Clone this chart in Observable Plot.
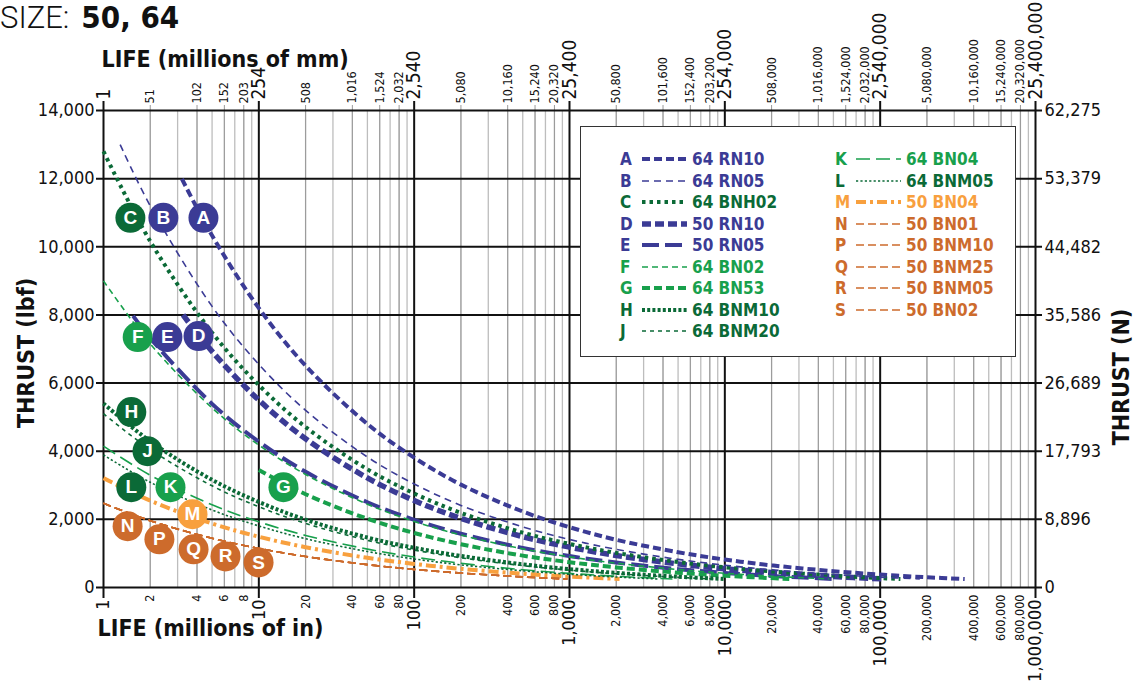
<!DOCTYPE html>
<html><head><meta charset="utf-8">
<script src="https://cdn.jsdelivr.net/npm/d3@7"></script>
<script src="https://cdn.jsdelivr.net/npm/@observablehq/plot@0.6"></script>
<style>
html,body{margin:0;padding:0;background:#fff;}
body{width:1134px;height:681px;overflow:hidden;position:relative;font-family:'Liberation Sans Narrow','DejaVu Sans Condensed','Liberation Sans',sans-serif;}
#chart{position:absolute;left:0;top:0;}
#title{position:absolute;left:0px;top:1px;font-size:31px;line-height:32px;white-space:nowrap;color:#111;}
#title .l{font-family:Roboto,'Liberation Sans',sans-serif;font-weight:300;}
#title .b{font-weight:bold;margin-left:12px;}
#legend{position:absolute;left:580px;top:126px;width:436px;height:231px;border:1px solid #333;background:#fff;box-sizing:border-box;}
.lg{position:absolute;font-weight:bold;font-size:17px;line-height:20px;white-space:nowrap;}
</style></head><body>
<div id="chart"></div>
<div id="title"><span class="l">SIZE:</span><span class="b">50, 64</span></div>
<div id="legend"></div>
<script>
const FONT = "'Liberation Sans Narrow','DejaVu Sans Condensed','Liberation Sans',sans-serif";

// ---- data (life in millions of inches, thrust in lbf) ----
const lifeA = [3.2,5,10,20,50,100,200,500,1000,2000,5000,10000,20000,50000,100000,200000,350000];
const thrustA = [11990,10330,8200,6510,4800,3810,3020,2230,1770,1400,1035,820,650,480,380,300,250];
const lifeB = [1.28,2,5,10,20,50,100,200,500,1000,2000,5000,10000,20000,50000,100000,180000];
const thrustB = [13000,11200,8250,6550,5200,3830,3040,2410,1780,1410,1120,825,655,520,383,304,250];
const lifeC = [1,2,5,10,20,50,100,200,500,1000,2000,5000,10000,20000,50000,100000,135000];
const thrustC = [12800,10160,7480,5940,4710,3470,2760,2190,1610,1280,1016,748,594,471,347,276,250];
const lifeD = [3.25,5,10,20,50,100,200,500,1000,2000,5000,10000,20000,50000,106000];
const thrustD = [8000,6930,5500,4365,3216,2553,2026,1493,1185,940,693,550,437,322,250];
const lifeE = [1.55,2,5,10,20,50,100,200,500,1000,2000,5000,10000,20000,50000];
const thrustE = [7970,7320,5390,4280,3397,2503,1987,1577,1162,922,732,539,428,340,250];
const lifeF = [1,2,5,10,20,50,100,200,500,1000,2000,5000,10000,20000,47000];
const thrustF = [9000,7150,5270,4180,3318,2444,1940,1540,1134,900,715,527,418,332,250];
const lifeG = [10,20,50,100,200,500,1000,2000,5000,10000,26000];
const thrustG = [3450,2738,2018,1601,1271,936,743,590,435,345,250];
const lifeH = [1,2,5,10,20,50,100,200,500,1000,2000,5000,10000];
const thrustH = [5400,4290,3160,2510,1990,1468,1165,925,681,541,429,316,251];
const lifeJ = [1,2,5,10,20,50,100,200,500,1000,2000,5000,8500];
const thrustJ = [5100,4050,2984,2368,1880,1385,1099,872,643,510,405,298,250];
const lifeK = [1,2,5,10,20,50,100,200,500,1000,2000,4600];
const thrustK = [4150,3295,2428,1927,1529,1127,894,710,523,415,330,250];
const lifeL = [1,2,5,10,20,50,100,200,500,1000,2000,3700];
const thrustL = [3890,3088,2276,1806,1433,1056,838,665,490,389,309,250];
const lifeM = [1,2,5,10,20,50,100,200,500,1000,2100];
const thrustM = [3210,2548,1878,1490,1183,871,692,549,404,321,250];
const lifeN = [1,2,5,10,20,50,100,200,500,970];
const thrustN = [2470,1961,1445,1147,910,671,532,423,311,250];
// P, Q, R, S coincide with N in the picture
const lifeP = lifeN, thrustP = thrustN;
const lifeQ = lifeN, thrustQ = thrustN;
const lifeR = lifeN, thrustR = thrustN;
const lifeS = lifeN, thrustS = thrustN;

const seriesCodes = ["A","B","C","D","E","F","G","H","J","K","L","M","N","P","Q","R","S"];
const seriesNames = ["64 RN10","64 RN05","64 BNH02","50 RN10","50 RN05","64 BN02","64 BN53","64 BNM10","64 BNM20","64 BN04","64 BNM05","50 BN04","50 BN01","50 BNM10","50 BNM25","50 BNM05","50 BN02"];
const seriesLife = [lifeA,lifeB,lifeC,lifeD,lifeE,lifeF,lifeG,lifeH,lifeJ,lifeK,lifeL,lifeM,lifeN,lifeP,lifeQ,lifeR,lifeS];
const seriesThrust = [thrustA,thrustB,thrustC,thrustD,thrustE,thrustF,thrustG,thrustH,thrustJ,thrustK,thrustL,thrustM,thrustN,thrustP,thrustQ,thrustR,thrustS];

// curve label bubbles
const labelCodes = ["C","B","A","F","E","D","H","J","L","K","G","M","N","P","Q","R","S"];
const labelLife = [1.49,2.43,4.4,1.66,2.58,4.09,1.51,1.92,1.51,2.7,14.4,3.74,1.43,2.29,3.8,6.1,9.96];
const labelThrust = [10850,10850,10850,7350,7350,7380,5150,4000,2945,2945,2945,2150,1800,1414,1120,913,736];

// axis tick values / labels
const yTicks = [0,2000,4000,6000,8000,10000,12000,14000];
const rightLabels = ["0","8,896","17,793","26,689","35,586","44,482","53,379","62,275"];
const xMajor = [1,10,100,1000,10000,100000,1000000];
const bottomMajorLabels = ["1","10","100","1,000","10,000","100,000","1,000,000"];
const topMajorLabels = ["1","254","2,540","25,400","254,000","2,540,000","25,400,000"];
const minorMult = [2,4,6,8];

// ---- styles ----
const NAVY="#3b3b95", DKGREEN="#0b6a37", GREEN="#18a04c", ORANGE="#f8a03e", BROWN="#cd6b2c";
const styles = {
  A:{color:NAVY,w:4,dash:"8,4"},
  B:{color:NAVY,w:1.6,dash:"7,5"},
  C:{color:DKGREEN,w:4,dash:"3.5,4"},
  D:{color:NAVY,w:5.5,dash:"9,4"},
  E:{color:NAVY,w:4,dash:"17,6"},
  F:{color:GREEN,w:1.6,dash:"6,4"},
  G:{color:GREEN,w:4,dash:"8,4"},
  H:{color:DKGREEN,w:4,dash:"3,2.2"},
  J:{color:DKGREEN,w:1.6,dash:"4,4"},
  K:{color:GREEN,w:1.6,dash:"14,6"},
  L:{color:DKGREEN,w:1.6,dash:"2.2,2.2"},
  M:{color:ORANGE,w:4,dash:"10,4,3,4"},
  N:{color:BROWN,w:1.6,dash:"8,4"},
  P:{color:BROWN,w:1.6,dash:"8,4"},
  Q:{color:BROWN,w:1.6,dash:"8,4"},
  R:{color:BROWN,w:1.6,dash:"8,4"},
  S:{color:BROWN,w:1.6,dash:"8,4"}
};

const fmt = d3.format(",");
const xMinorAll = [];
xMajor.slice(0,-1).forEach(d => { for (let k=2;k<=9;k++) xMinorAll.push(d*k); });
const xMinorLab = [];
xMajor.slice(0,-1).forEach(d => minorMult.forEach(k => xMinorLab.push(d*k)));

// draw thick lines first, thin lines on top
const order = seriesCodes.map((c,i)=>i).sort((a,b)=>styles[seriesCodes[b]].w - styles[seriesCodes[a]].w);
const lineMarks = order.map(i => {
  const st = styles[seriesCodes[i]];
  const data = seriesLife[i].map((l,j)=>({life:l, thrust:seriesThrust[i][j]}));
  return Plot.line(data, {x:"life", y:"thrust", stroke:st.color, strokeWidth:st.w,
    strokeDasharray:st.dash, strokeLinecap:"butt", strokeLinejoin:"round", curve:"catmull-rom"});
});

const labels = labelCodes.map((c,i)=>({code:c, life:labelLife[i], thrust:labelThrust[i], color:styles[c].color}));

const chart = Plot.plot({
  width:1134, height:681,
  marginLeft:103, marginRight:99, marginTop:110, marginBottom:94,
  x:{type:"log", domain:[1,1000000], axis:null},
  y:{domain:[0,14000], axis:null},
  style:{fontFamily:FONT, background:"white", overflow:"visible", color:"#111"},
  marks:[
    Plot.ruleX(xMinorAll, {stroke:"#bdbdbd", strokeWidth:1.3}),
    Plot.ruleX(xMinorLab, {stroke:"#9a9a9a", strokeWidth:1, insetTop:-5}),
    Plot.ruleY(yTicks, {stroke:"#111", strokeWidth:2, insetLeft:-7, insetRight:-7}),
    Plot.ruleX(xMajor, {stroke:"#111", strokeWidth:2, insetTop:-9, insetBottom:-11}),
    ...lineMarks,
    Plot.dot(labels, {x:"life", y:"thrust", r:15, fill:"color", stroke:"none"}),
    Plot.text(labels, {x:"life", y:"thrust", text:"code", fill:"white", fontWeight:"bold", fontSize:19, fontFamily:"'Liberation Sans','DejaVu Sans',sans-serif"}),
    // left axis labels
    Plot.text(yTicks, {y:d=>d, frameAnchor:"left", dx:-9, textAnchor:"end", text:d=>fmt(d), fontSize:18, fill:"#111"}),
    // right axis labels
    Plot.text(yTicks, {y:d=>d, frameAnchor:"right", dx:9, textAnchor:"start", text:(d,i)=>rightLabels[i], fontSize:18, fill:"#111"}),
    // bottom labels
    Plot.text(xMajor, {x:d=>d, frameAnchor:"bottom", dy:12, rotate:-90, textAnchor:"end", lineAnchor:"middle", text:(d,i)=>bottomMajorLabels[i], fontSize:18, fill:"#111"}),
    Plot.text(xMinorLab, {x:d=>d, frameAnchor:"bottom", dy:7, rotate:-90, textAnchor:"end", lineAnchor:"middle", text:d=>fmt(d), fontSize:12.5, fill:"#111"}),
    // top labels (millions of mm)
    Plot.text(xMajor, {x:d=>d, frameAnchor:"top", dy:-11, rotate:-90, textAnchor:"start", lineAnchor:"middle", text:(d,i)=>topMajorLabels[i], fontSize:19, fill:"#111"}),
    Plot.text(xMinorLab, {x:d=>d, frameAnchor:"top", dy:-7, rotate:-90, textAnchor:"start", lineAnchor:"middle", text:d=>fmt(Math.round(d*25.4)), fontSize:12.5, fill:"#111"}),
    // axis titles
    Plot.text(["THRUST (lbf)"], {frameAnchor:"left", dx:-77, dy:4, rotate:-90, textAnchor:"middle", fontWeight:"bold", fontSize:23, fill:"#111"}),
    Plot.text(["THRUST (N)"], {frameAnchor:"right", dx:86, dy:28, rotate:-90, textAnchor:"middle", fontWeight:"bold", fontSize:23, fill:"#111"}),
    Plot.text(["LIFE (millions of mm)"], {frameAnchor:"top-left", dx:-2, dy:-60, textAnchor:"start", fontWeight:"bold", fontSize:23, fill:"#111"}),
    Plot.text(["LIFE (millions of in)"], {frameAnchor:"bottom-left", dx:-6, dy:48, textAnchor:"start", fontWeight:"bold", fontSize:23, fill:"#111"})
  ]
});
document.getElementById("chart").appendChild(chart);

// ---- legend ----
const lg = d3.select("#legend");
const col1 = ["A","B","C","D","E","F","G","H","J"];
const col2 = ["K","L","M","N","P","Q","R","S"];
function addRow(code, col, row) {
  const i = seriesCodes.indexOf(code);
  const st = styles[code];
  const top = 22 + row*21.5;
  const xs = col===0 ? {letter:39, line:61, lineW:45, label:111} : {letter:254, line:275, lineW:45, label:325};
  lg.append("div").attr("class","lg").style("left",xs.letter+"px").style("top",(top)+"px").style("color",st.color).text(code);
  const svg = lg.append("svg").style("position","absolute").style("left",xs.line+"px").style("top",(top+4)+"px")
    .attr("width",xs.lineW).attr("height",12);
  svg.append("line").attr("x1",0).attr("x2",xs.lineW).attr("y1",6).attr("y2",6)
    .attr("stroke",st.color).attr("stroke-width",st.w).attr("stroke-dasharray",st.dash);
  lg.append("div").attr("class","lg").style("left",xs.label+"px").style("top",top+"px").style("color",st.color).text(seriesNames[i]);
}
col1.forEach((c,r)=>addRow(c,0,r));
col2.forEach((c,r)=>addRow(c,1,r));
</script>
</body></html>
